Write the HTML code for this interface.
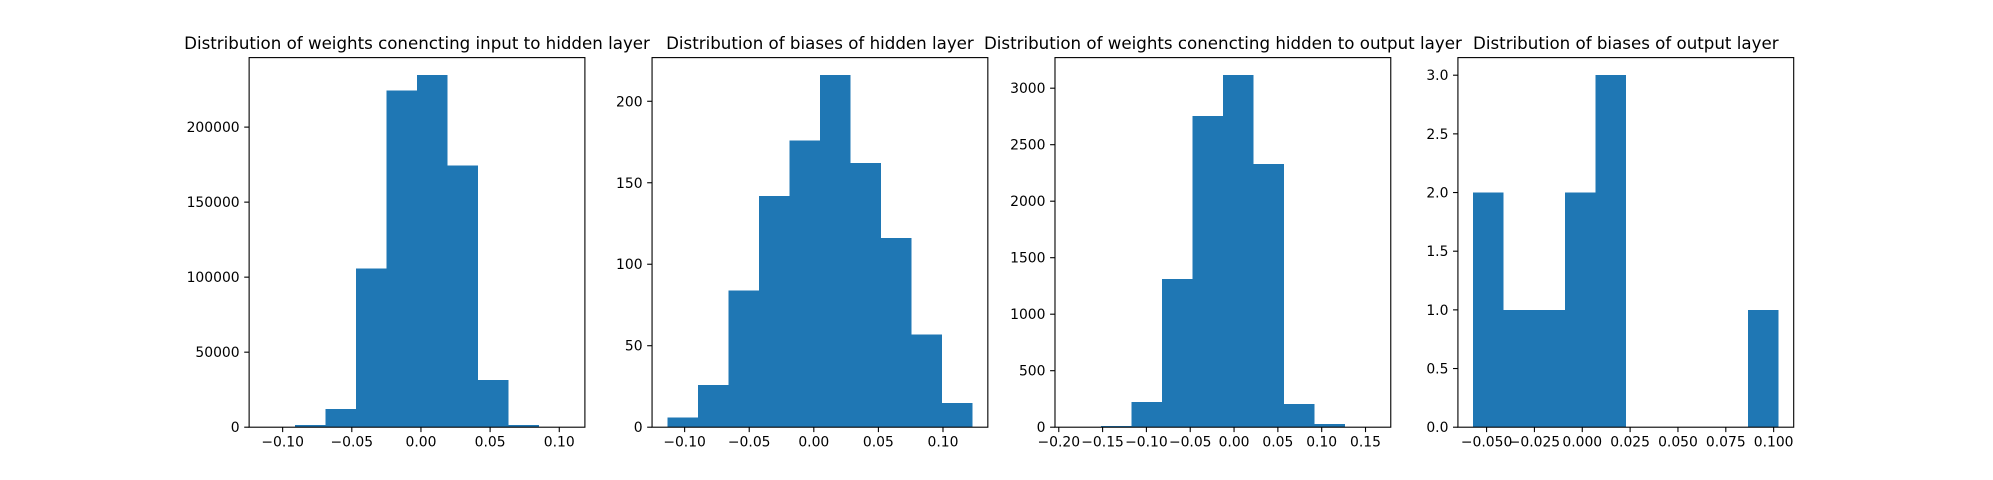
<!DOCTYPE html>
<html><head><meta charset="utf-8"><style>
html,body{margin:0;padding:0;background:#fff;}
svg{display:block;font-family:"DejaVu Sans","Liberation Sans",sans-serif;}
</style></head><body>
<svg id="fig" width="1993" height="480" viewBox="0 0 1993 480" xmlns="http://www.w3.org/2000/svg"></svg>
<script>
// Panel data (histograms, 10 bins each)
const titles = [
  "Distribution of weights conencting input to hidden layer",
  "Distribution of biases of hidden layer",
  "Distribution of weights conencting hidden to output layer",
  "Distribution of biases of output layer"
];
const countsInputWeights = [20, 1300, 12200, 105700, 224500, 234600, 174400, 31600, 1300, 60];
const countsHiddenBiases = [6, 26, 84, 142, 176, 216, 162, 116, 57, 15];
const countsOutputWeights = [1, 12, 224, 1312, 2755, 3115, 2330, 206, 29, 1];
const countsOutputBiases = [2, 1, 1, 2, 3, 0, 0, 0, 0, 1];
const dataMin = [-0.1132, -0.1134, -0.1869, -0.0570];
const dataMax = [0.1075, 0.1229, 0.1614, 0.1025];
const xTicks1 = [-0.10, -0.05, 0.00, 0.05, 0.10];
const xTicks2 = [-0.10, -0.05, 0.00, 0.05, 0.10];
const xTicks3 = [-0.20, -0.15, -0.10, -0.05, 0.00, 0.05, 0.10, 0.15];
const xTicks4 = [-0.050, -0.025, 0.000, 0.025, 0.050, 0.075, 0.100];
const xDecimals = [2, 2, 2, 3];
const yTicks1 = [0, 50000, 100000, 150000, 200000];
const yTicks2 = [0, 50, 100, 150, 200];
const yTicks3 = [0, 500, 1000, 1500, 2000, 2500, 3000];
const yTicks4 = [0, 0.5, 1.0, 1.5, 2.0, 2.5, 3.0];
const yDecimals = [0, 0, 0, 1];

const counts = [countsInputWeights, countsHiddenBiases, countsOutputWeights, countsOutputBiases];
const xTicks = [xTicks1, xTicks2, xTicks3, xTicks4];
const yTicks = [yTicks1, yTicks2, yTicks3, yTicks4];

const NS = "http://www.w3.org/2000/svg";
const svgRoot = document.getElementById("fig");
function mk(tag, attrs, parent) {
  const e = document.createElementNS(NS, tag);
  for (const k in attrs) e.setAttribute(k, attrs[k]);
  (parent || svgRoot).appendChild(e);
  return e;
}
function fmt(v, d) {
  let s = Math.abs(v).toFixed(d);
  if (v < 0 && parseFloat(s) !== 0) s = "\u2212" + s;
  return s;
}
const FW = 1993, FH = 480;
const axL = 0.125 * FW, axR = 0.9 * FW, axT = 0.12 * FH, axB = 0.89 * FH;
const wspace = 0.2;
const aw = (axR - axL) / (4 + 3 * wspace);
for (let p = 0; p < 4; p++) {
  const g = mk("g", {});
  
  
  const x0 = axL + p * aw * (1 + wspace), x1 = x0 + aw;
  const dmin = dataMin[p], dmax = dataMax[p];
  const span = dmax - dmin;
  const vmin = dmin - 0.05 * span, vmax = dmax + 0.05 * span;
  const c = counts[p];
  const ymax = 1.05 * Math.max(...c);
  const X = v => x0 + (v - vmin) / (vmax - vmin) * aw;
  const Y = v => axB - v / ymax * (axB - axT);
  const bw = span / c.length;
  for (let i = 0; i < c.length; i++) {
    if (c[i] <= 0) continue;
    const xa = X(dmin + i * bw), xb = X(dmin + (i + 1) * bw);
    const r = mk("rect", {x: xa, y: Y(c[i]), width: xb - xa, height: axB - Y(c[i]), fill: "#1f77b4", "shape-rendering": "crispEdges"}, g);
    
    
  }
  const frame = mk("rect", {x: x0, y: axT, width: aw, height: axB - axT, fill: "none", stroke: "#000", "stroke-width": 1.1}, g);
  
  
  const t = mk("text", {x: (x0 + x1) / 2, y: axT - 8.5, "text-anchor": "middle", "font-size": "16.67px", fill: "#000"}, g);
  t.textContent = titles[p];
  
  
  xTicks[p].forEach(v => {
    const x = X(v);
    mk("line", {x1: x, x2: x, y1: axB, y2: axB + 4.9, stroke: "#000", "stroke-width": 1.1}, g);
    const l = mk("text", {x: x, y: axB + 19.5, "text-anchor": "middle", "font-size": "13.9px", fill: "#000"}, g);
    l.textContent = fmt(v, xDecimals[p]);
    
    
  });
  yTicks[p].forEach(v => {
    const y = Y(v);
    mk("line", {x1: x0 - 4.9, x2: x0, y1: y, y2: y, stroke: "#000", "stroke-width": 1.1}, g);
    const l = mk("text", {x: x0 - 9.5, y: y + 5, "text-anchor": "end", "font-size": "13.9px", fill: "#000"}, g);
    l.textContent = v.toFixed(yDecimals[p]);
    
    
  });
}
</script>
</body></html>
